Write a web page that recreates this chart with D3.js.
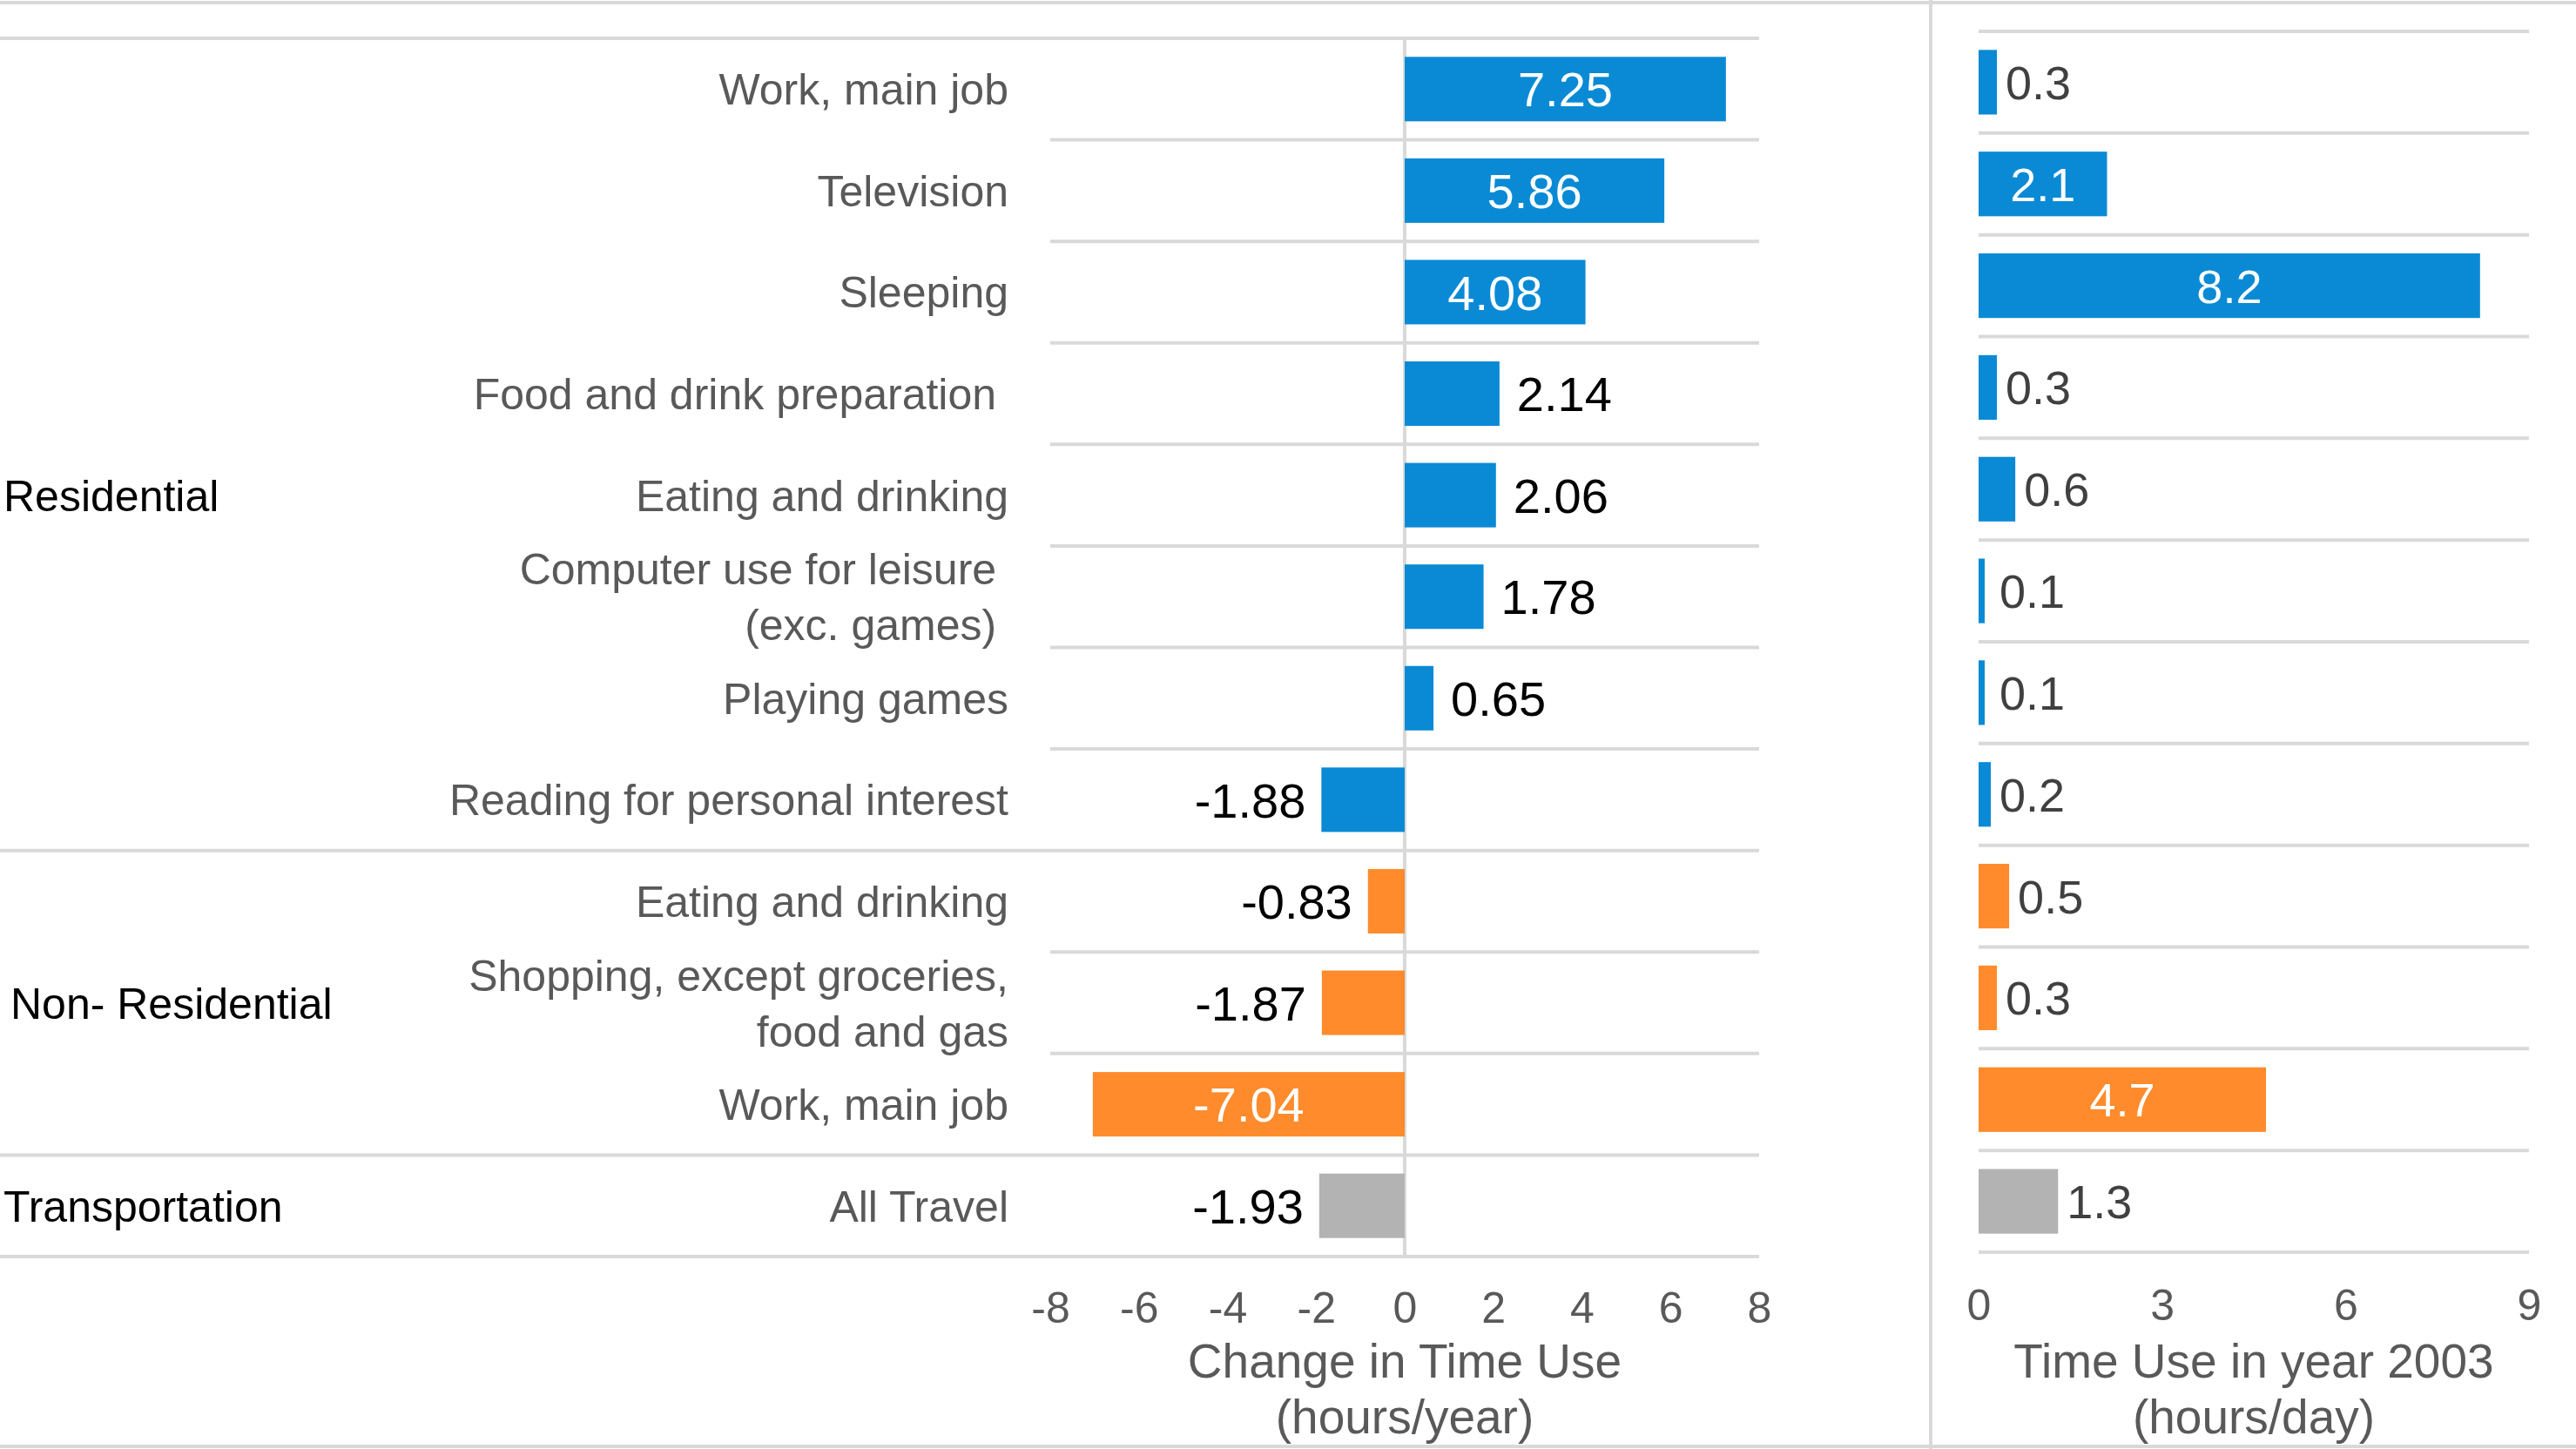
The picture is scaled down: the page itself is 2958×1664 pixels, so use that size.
<!DOCTYPE html>
<html>
<head>
<meta charset="utf-8">
<script src="https://cdn.jsdelivr.net/npm/d3@7"></script>
<style>
  body { margin: 0; background: #fff; }
  svg { display: block; font-family: "Liberation Sans", Arial, sans-serif; }
  text { white-space: pre; }
</style>
</head>
<body>
<div id="chart"></div>
<script>
const width = 2958;
const height = 1664;

// rows, top to bottom
const categories = [
  ["Work, main job"],
  ["Television"],
  ["Sleeping"],
  ["Food and drink preparation "],
  ["Eating and drinking"],
  ["Computer use for leisure ", "(exc. games) "],
  ["Playing games"],
  ["Reading for personal interest"],
  ["Eating and drinking"],
  ["Shopping, except groceries,", "food and gas"],
  ["Work, main job"],
  ["All Travel"]
];
const groups = ["Residential", "Non- Residential", "Transportation"];
const rowGroup = [0, 0, 0, 0, 0, 0, 0, 0, 1, 1, 1, 2];
const changeValues = [7.25, 5.86, 4.08, 2.14, 2.06, 1.78, 0.65, -1.88, -0.83, -1.87, -7.04, -1.93];
const use2003Values = [0.3, 2.1, 8.2, 0.3, 0.6, 0.1, 0.1, 0.2, 0.5, 0.3, 4.7, 1.3];
const groupColors = ["#0A8AD5", "#FF8B2C", "#B3B3B3"];
const changeTicks = [-8, -6, -4, -2, 0, 2, 4, 6, 8];
const useTicks = [0, 3, 6, 9];
const changeTitle = ["Change in Time Use", "(hours/year)"];
const useTitle = ["Time Use in year 2003", "(hours/day)"];

const gridColor = "#D9D9D9";
const labelGray = "#595959";

const svg = d3.select('#chart').append('svg')
  .attr('width', width)
  .attr('height', height);

// chart frames
svg.append('line').attr('x1', 0).attr('x2', width).attr('y1', 3).attr('y2', 3)
  .style('stroke', gridColor).style('stroke-width', 4);
svg.append('line').attr('x1', 0).attr('x2', width).attr('y1', 1661).attr('y2', 1661)
  .style('stroke', gridColor).style('stroke-width', 4);
svg.append('line').attr('x1', 2217).attr('x2', 2217).attr('y1', 0).attr('y2', height)
  .style('stroke', gridColor).style('stroke-width', 4);

const rows = d3.range(categories.length);

// ---------- left panel: change in time use ----------
const xL = d3.scaleLinear().domain([-8, 8]).range([1206, 2020]);
const yL = d3.scaleBand().domain(rows).range([44, 1443]).paddingInner(0.365).paddingOuter(0.1825);
const stepL = yL.step();

const groupStarts = rows.filter(i => i === 0 || rowGroup[i] !== rowGroup[i - 1]);

// horizontal row lines
const lineRows = d3.range(categories.length + 1);
svg.append('g').selectAll('line')
  .data(lineRows)
  .join('line')
  .attr('x1', d => (groupStarts.includes(d) || d === categories.length) ? 0 : xL(-8))
  .attr('x2', xL(8))
  .attr('y1', d => 44 + d * stepL)
  .attr('y2', d => 44 + d * stepL)
  .style('stroke', gridColor)
  .style('stroke-width', 4);

// zero line
svg.append('line')
  .attr('x1', xL(0)).attr('x2', xL(0))
  .attr('y1', 44).attr('y2', 1443)
  .style('stroke', gridColor)
  .style('stroke-width', 4);

// bars
svg.append('g').selectAll('rect')
  .data(rows)
  .join('rect')
  .attr('x', i => Math.min(xL(0), xL(changeValues[i])))
  .attr('width', i => Math.abs(xL(changeValues[i]) - xL(0)))
  .attr('y', i => yL(i))
  .attr('height', yL.bandwidth())
  .style('fill', i => groupColors[rowGroup[i]]);

// value labels
svg.append('g').selectAll('text')
  .data(rows)
  .join('text')
  .attr('x', i => {
    const v = changeValues[i];
    const w = Math.abs(xL(v) - xL(0));
    if (w > 130) return (xL(v) + xL(0)) / 2;
    return v >= 0 ? xL(v) + 20 : xL(v) - 18;
  })
  .attr('y', i => yL(i) + yL.bandwidth() / 2)
  .attr('dy', '0.36em')
  .attr('text-anchor', i => {
    const v = changeValues[i];
    if (Math.abs(xL(v) - xL(0)) > 130) return 'middle';
    return v >= 0 ? 'start' : 'end';
  })
  .style('font-size', '56px')
  .style('fill', i => Math.abs(xL(changeValues[i]) - xL(0)) > 130 ? '#fff' : '#000')
  .text(i => changeValues[i].toFixed(2));

// category labels
const catText = svg.append('g').selectAll('text')
  .data(rows)
  .join('text')
  .attr('x', 1158)
  .attr('y', i => yL(i) + yL.bandwidth() / 2)
  .attr('text-anchor', 'end')
  .style('font-size', '50px')
  .style('fill', labelGray);

catText.selectAll('tspan')
  .data(i => categories[i].map((t, k, arr) => ({ t, k, n: arr.length })))
  .join('tspan')
  .attr('x', 1158)
  .attr('dy', d => d.k === 0 ? `${0.36 - (d.n - 1) * 0.64}em` : '1.28em')
  .text(d => d.t);

// group labels, placed on the middle row of each group
svg.append('g').selectAll('text')
  .data(groups)
  .join('text')
  .attr('x', (d, gi) => gi === 1 ? 12 : 4)
  .attr('y', (g, gi) => {
    const members = rows.filter(i => rowGroup[i] === gi);
    const mid = members[Math.floor(members.length / 2)];
    return yL(mid) + yL.bandwidth() / 2;
  })
  .attr('dy', '0.36em')
  .style('font-size', '50px')
  .style('fill', '#000')
  .text(d => d);

// x axis
const axisL = svg.append('g')
  .attr('transform', 'translate(0,1443)')
  .call(d3.axisBottom(xL).tickValues(changeTicks).tickFormat(d => String(d)).tickSize(0).tickPadding(40));
axisL.select('.domain').remove();
axisL.selectAll('text')
  .style('font-size', '50px')
  .style('font-family', '"Liberation Sans", Arial, sans-serif')
  .style('fill', labelGray);

svg.append('g').selectAll('text')
  .data(changeTitle)
  .join('text')
  .attr('x', xL(0))
  .attr('y', (d, k) => 1582 + k * 64)
  .attr('text-anchor', 'middle')
  .style('font-size', '55px')
  .style('fill', labelGray)
  .text(d => d);

// ---------- right panel: time use in 2003 ----------
const xR = d3.scaleLinear().domain([0, 9]).range([2272, 2904]);
const yR = d3.scaleBand().domain(rows).range([36, 1438]).paddingInner(0.365).paddingOuter(0.1825);
const stepR = yR.step();

svg.append('g').selectAll('line')
  .data(lineRows)
  .join('line')
  .attr('x1', xR(0))
  .attr('x2', xR(9))
  .attr('y1', d => 36 + d * stepR)
  .attr('y2', d => 36 + d * stepR)
  .style('stroke', gridColor)
  .style('stroke-width', 4);

svg.append('g').selectAll('rect')
  .data(rows)
  .join('rect')
  .attr('x', xR(0))
  .attr('width', i => xR(use2003Values[i]) - xR(0))
  .attr('y', i => yR(i))
  .attr('height', yR.bandwidth())
  .style('fill', i => groupColors[rowGroup[i]]);

svg.append('g').selectAll('text')
  .data(rows)
  .join('text')
  .attr('x', i => {
    const w = xR(use2003Values[i]) - xR(0);
    return w > 130 ? xR(0) + w / 2 : Math.max(xR(use2003Values[i]) + 10, xR(0) + 24);
  })
  .attr('y', i => yR(i) + yR.bandwidth() / 2)
  .attr('dy', '0.36em')
  .attr('text-anchor', i => (xR(use2003Values[i]) - xR(0)) > 130 ? 'middle' : 'start')
  .style('font-size', '54px')
  .style('fill', i => (xR(use2003Values[i]) - xR(0)) > 130 ? '#fff' : '#404040')
  .text(i => use2003Values[i].toFixed(1));

const axisR = svg.append('g')
  .attr('transform', 'translate(0,1438)')
  .call(d3.axisBottom(xR).tickValues(useTicks).tickSize(0).tickPadding(42));
axisR.select('.domain').remove();
axisR.selectAll('text')
  .style('font-size', '50px')
  .style('font-family', '"Liberation Sans", Arial, sans-serif')
  .style('fill', labelGray);

svg.append('g').selectAll('text')
  .data(useTitle)
  .join('text')
  .attr('x', (xR(0) + xR(9)) / 2)
  .attr('y', (d, k) => 1582 + k * 64)
  .attr('text-anchor', 'middle')
  .style('font-size', '55px')
  .style('fill', labelGray)
  .text(d => d);
</script>
</body>
</html>
